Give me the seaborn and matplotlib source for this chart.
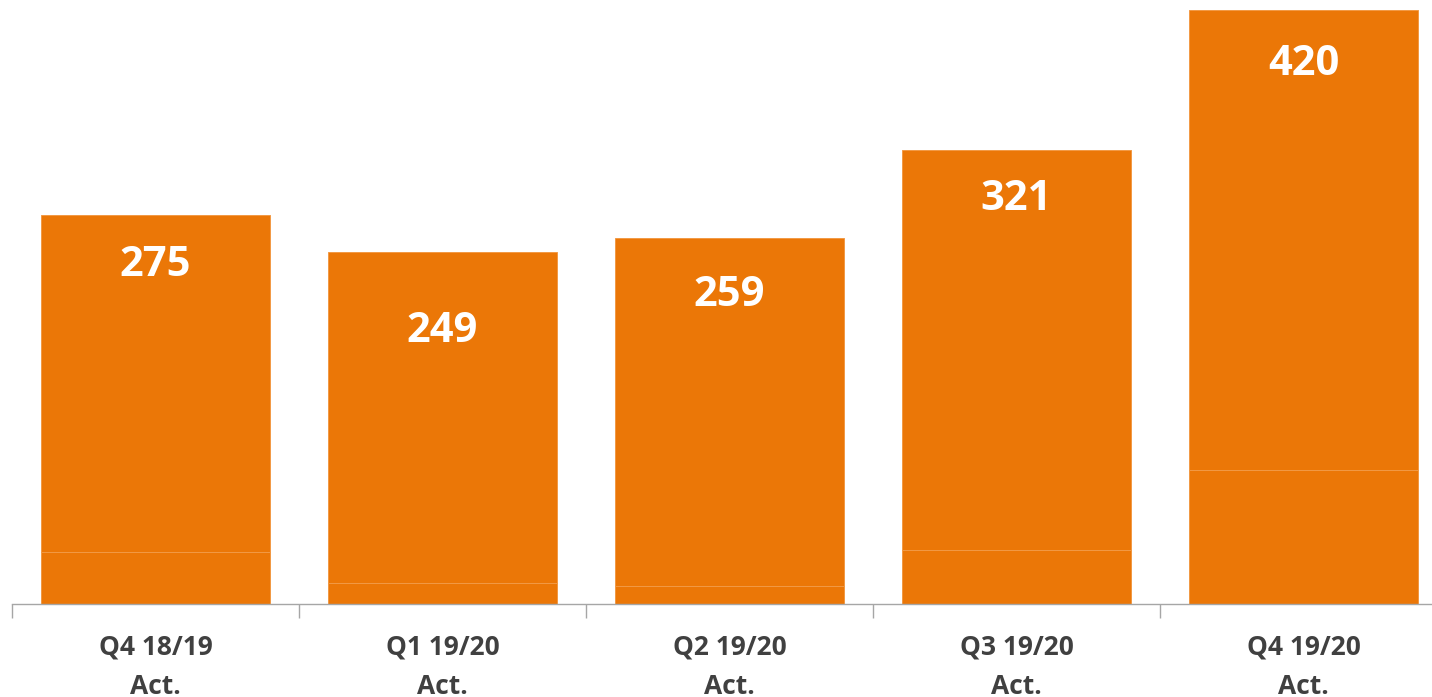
import pandas as pd
import seaborn as sns
import matplotlib.pyplot as plt

sns.set_theme(style="white")
plt.rcParams['font.family'] = ['Open Sans', 'DejaVu Sans']

# data
quarters = ['Q4 18/19\nAct.', 'Q1 19/20\nAct.', 'Q2 19/20\nAct.', 'Q3 19/20\nAct.', 'Q4 19/20\nAct.']
totals = [275, 249, 259, 321, 420]
bottom_part = [37, 15, 13, 38, 95]

# label drop below bar top (pixels), as placed in the original
label_drop = [48, 77, 55, 47, 52]

df = pd.DataFrame({'Quarter': quarters, 'Total': totals, 'Bottom': bottom_part})

orange = '#EB7707'
edge = '#F29A45'

fig = plt.figure(figsize=(14.32, 6.97), dpi=100)
ax = fig.add_axes([12 / 1432, 93 / 697, 1435 / 1432, 594 / 697])

sns.barplot(data=df, x='Quarter', y='Total', color=orange, saturation=1,
            width=0.795, edgecolor=edge, linewidth=0.7, ax=ax)
sns.barplot(data=df, x='Quarter', y='Bottom', color=orange, saturation=1,
            width=0.795, edgecolor=edge, linewidth=0.7, ax=ax)

for i, t in enumerate(totals):
    ax.annotate(str(t), xy=(i, t), xytext=(0, -label_drop[i] * 0.72 - 2),
                textcoords='offset points', ha='center', va='center',
                color='white', fontsize=30, fontweight='bold')

ax.set_xlim(-0.5, 4.5)
ax.set_ylim(0, 420)
ax.set_xlabel('')
ax.set_ylabel('')
ax.set_yticks([])

ax.set_xticks(range(len(quarters)))
ax.set_xticklabels(quarters, fontsize=19, fontweight='bold', color='#404040',
                   linespacing=1.6)
ax.set_xticks([i - 0.5 for i in range(len(quarters) + 1)], minor=True)
ax.tick_params(axis='x', which='major', length=0, pad=21)
ax.tick_params(axis='x', which='minor', length=10, width=1, color='#A6A6A6',
               direction='out', bottom=True)

for s in ['top', 'right', 'left']:
    ax.spines[s].set_visible(False)
ax.spines['bottom'].set_color('#A6A6A6')
ax.spines['bottom'].set_linewidth(1)

fig.savefig('out.png', dpi=100)
